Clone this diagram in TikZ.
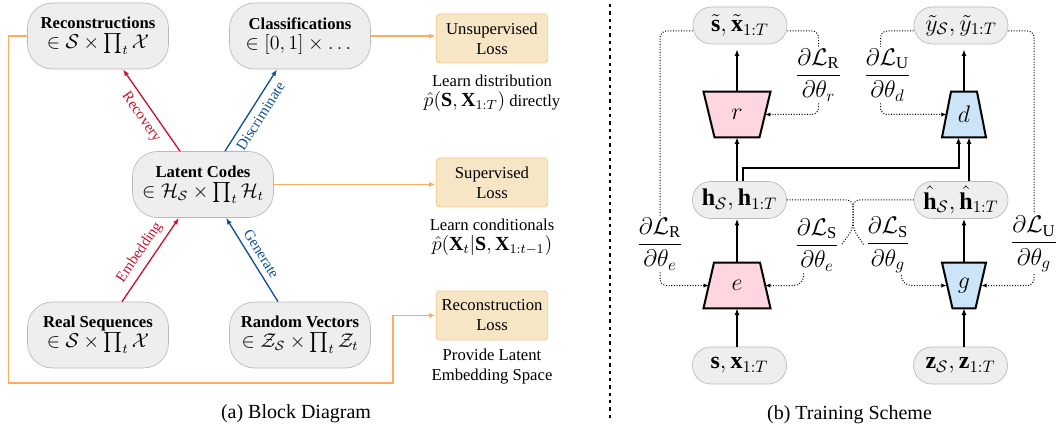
\documentclass[tikz,border=0pt]{standalone}
\usepackage{amsmath,amssymb,bm}
\usepackage{fontspec}
\setmainfont{Liberation Serif}
\usetikzlibrary{calc,arrows.meta}

\definecolor{boxgray}{RGB}{238,238,238}
\definecolor{boxedge}{RGB}{185,185,185}
\definecolor{lossfill}{RGB}{247,230,198}
\definecolor{lossedge}{RGB}{244,200,140}
\definecolor{lossline}{RGB}{255,172,92}
\definecolor{recred}{RGB}{200,20,45}
\definecolor{genblue}{RGB}{15,80,150}
\definecolor{autopink}{RGB}{253,214,224}
\definecolor{advblue}{RGB}{204,228,248}

\tikzset{
	block/.style={draw=boxedge,fill=boxgray,rounded corners=15pt,minimum width=84.6pt,minimum height=39.6pt,align=center,inner sep=2pt},
	varbox/.style={draw=boxedge,fill=boxgray,rounded corners=11pt,minimum width=56.4pt,minimum height=22.2pt,inner sep=1pt,font=\Large},
	lossbox/.style={draw=lossedge,fill=lossfill,rounded corners=2pt,minimum width=67pt,minimum height=29.4pt,align=center,inner sep=1pt},
	net/.style={minimum height=27pt,inner sep=0pt},
	headtip/.style={-{Latex[length=4pt,width=3pt]}},
	dottip/.style={-{Latex[length=3pt,width=2.6pt]}},
	flow/.style={very thick,headtip},
	grad/.style={densely dotted,semithick,rounded corners=4pt},
	lossarrow/.style={thick,draw=lossline,headtip},
	fracnode/.style={font=\Large,inner sep=1pt},
}
\newcommand{\trap}[4]{\draw[very thick,fill=#4] ([xshift=-#2]#1.north) -- ([xshift=#2]#1.north) -- ([xshift=#3]#1.south) -- ([xshift=-#3]#1.south) -- cycle;}

\begin{document}
\begin{tikzpicture}[x=0.6pt,y=-0.6pt]
			\useasboundingbox (0,0) rectangle (1062,429);
			\node[block] (recon) at (98,36) {\textbf{Reconstructions}\\{\large$\in\mathcal{S}\times\prod_t\mathcal{X}$}};
			\node[block] (classif) at (300,36) {\textbf{Classifications}\\{\large$\in[0,1]\times\dots$}};
			\node[block] (latent) at (203,184.5) {\textbf{Latent Codes}\\{\large$\in\mathcal{H}_{\mathcal{S}}\times\prod_t\mathcal{H}_t$}};
			\node[block] (real) at (98,335) {\textbf{Real Sequences}\\{\large$\in\mathcal{S}\times\prod_t\mathcal{X}$}};
			\node[block] (rand) at (300,335) {\textbf{Random Vectors}\\{\large$\in\mathcal{Z}_{\mathcal{S}}\times\prod_t\mathcal{Z}_t$}};
			\node[lossbox] (unsup) at (492,38.5) {Unsupervised\\Loss};
			\node[lossbox] (sup) at (492,182.5) {Supervised\\Loss};
			\node[lossbox] (recloss) at (492,315.5) {Reconstruction\\Loss};
			\node[align=center] (unsupnote) at (492,93) {Learn distribution\\{\large$\hat{p}(\mathbf{S},\mathbf{X}_{1:T})$} directly};
			\node[align=center] (supnote) at (492,237) {Learn conditionals\\{\large$\hat{p}(\mathbf{X}_t|\mathbf{S},\mathbf{X}_{1:t-1})$}};
			\node[align=center] (recnote) at (492,367) {Provide Latent\\Embedding Space};
			\draw[thick,draw=recred,headtip] ([xshift=-13.8pt]latent.north) -- node[below,sloped,font=\small,text=recred]{Recovery} ([xshift=15pt]recon.south);
			\draw[thick,draw=genblue,headtip] ([xshift=13.2pt]latent.north) -- node[below,sloped,font=\small,text=genblue]{Discriminate} ([xshift=-13.8pt]classif.south);
			\draw[thick,draw=recred,headtip] ([xshift=14.4pt]real.north) -- node[above,sloped,font=\small,text=recred]{Embedding} ([xshift=-14.4pt]latent.south);
			\draw[thick,draw=genblue,headtip] ([xshift=-13.2pt]rand.north) -- node[above,sloped,font=\small,text=genblue]{Generate} ([xshift=13.8pt]latent.south);
			\draw[lossarrow] (classif.east) -- (classif.east -| unsup.west);
			\draw[lossarrow] (latent.east) -- (latent.east -| sup.west);
			\draw[lossarrow] (recon.west) -- ++(-19,0) |- (393,383) |- (recloss.west);
			\node[font=\large] (capa) at (296,414) {(a) Block Diagram};
			\draw[thick,dash pattern=on 2pt off 2.4pt] (610,4) -- (610,420);
			\node[varbox] (ts) at (740,25.5) {$\tilde{\mathbf{s}},\tilde{\mathbf{x}}_{1:T}$};
			\node[varbox] (ty) at (961,25.5) {$\tilde{y}_{\mathcal{S}},\tilde{y}_{1:T}$};
			\node[varbox] (h) at (739.5,200) {$\mathbf{h}_{\mathcal{S}},\mathbf{h}_{1:T}$};
			\node[varbox] (hh) at (961,200) {$\hat{\mathbf{h}}_{\mathcal{S}},\hat{\mathbf{h}}_{1:T}$};
			\node[varbox] (sx) at (739.5,365.5) {$\mathbf{s},\mathbf{x}_{1:T}$};
			\node[varbox] (zz) at (960.5,365.5) {$\mathbf{z}_{\mathcal{S}},\mathbf{z}_{1:T}$};
			\node[net,minimum width=33.6pt] (r) at (737,114.5) {};
			\node[net,minimum width=20.7pt] (d) at (964,114.5) {};
			\node[net,minimum width=33.6pt] (e) at (737,285.5) {};
			\node[net,minimum width=20.7pt] (g) at (964,285.5) {};
			\trap{r}{20.1pt}{13.5pt}{autopink}
			\trap{d}{7.8pt}{13.2pt}{advblue}
			\trap{e}{13.8pt}{20.1pt}{autopink}
			\trap{g}{13.2pt}{6.9pt}{advblue}
			\node[font=\Large] (rname) at (r) {$r$};
			\node[font=\Large] (dname) at (d) {$d$};
			\node[font=\Large] (ename) at (e) {$e$};
			\node[font=\Large] (gname) at (g) {$g$};
			\draw[flow] (e.south |- sx.north) -- (e.south);
			\draw[flow] (e.north) -- (e.north |- h.south);
			\draw[flow] (r.south |- h.north) -- (r.south);
			\draw[flow,shorten >=3pt] (r.north) -- (r.north |- ts.south);
			\draw[flow] ([xshift=2pt]h.north) -- ++(0,-13) -| ([xshift=-3.3pt]d.south);
			\draw[flow] ([xshift=3pt]d.south |- hh.north) -- ([xshift=3pt]d.south);
			\draw[flow,shorten >=3pt] (d.north) -- (d.north |- ty.south);
			\draw[flow] (g.south |- zz.north) -- (g.south);
			\draw[flow] (g.north) -- (g.north |- hh.south);
			\node[fracnode] (dLRr) at (818.5,75) {$\displaystyle\frac{\partial\mathcal{L}_{\mathrm{R}}}{\partial\theta_r}$};
			\node[fracnode] (dLUd) at (887.5,75) {$\displaystyle\frac{\partial\mathcal{L}_{\mathrm{U}}}{\partial\theta_d}$};
			\node[fracnode] (dLRe) at (660,244) {$\displaystyle\frac{\partial\mathcal{L}_{\mathrm{R}}}{\partial\theta_e}$};
			\node[fracnode] (dLSe) at (817,245) {$\displaystyle\frac{\partial\mathcal{L}_{\mathrm{S}}}{\partial\theta_e}$};
			\node[fracnode] (dLSg) at (888,245) {$\displaystyle\frac{\partial\mathcal{L}_{\mathrm{S}}}{\partial\theta_g}$};
			\node[fracnode] (dLUg) at (1034,244) {$\displaystyle\frac{\partial\mathcal{L}_{\mathrm{U}}}{\partial\theta_g}$};
			\coordinate (mg) at (853,229);
			\draw[grad] ([yshift=-3.3pt]ts.west) -| (dLRe.north);
			\draw[grad,dottip] (dLRe.south) |- (e.west);
			\draw[grad] ([yshift=-3.3pt]ts.east) -| (dLRr.north);
			\draw[grad,dottip] (dLRr.south) |- (r.east);
			\draw[grad] ([yshift=-3.3pt]ty.west) -| ([xshift=-4.2pt]dLUd.north);
			\draw[grad,dottip] ([xshift=-4.2pt]dLUd.south) |- (d.west);
			\draw[grad] ([yshift=-3.3pt]ty.east) -| (dLUg.north);
			\draw[grad,dottip] (dLUg.south) |- (g.east);
			\draw[grad] (h.east) -| (mg) -- (dLSe.east);
			\draw[grad] (hh.west) -| (mg) -- (dLSg.west);
			\draw[grad,dottip,rounded corners=6pt] ([xshift=-8pt]dLSe.south) |- (e.east);
			\draw[grad,dottip,rounded corners=6pt] ([xshift=8pt]dLSg.south) |- (g.west);
			\node[font=\large] (capb) at (849.5,415) {(b) Training Scheme};
		\end{tikzpicture}
\end{document}
